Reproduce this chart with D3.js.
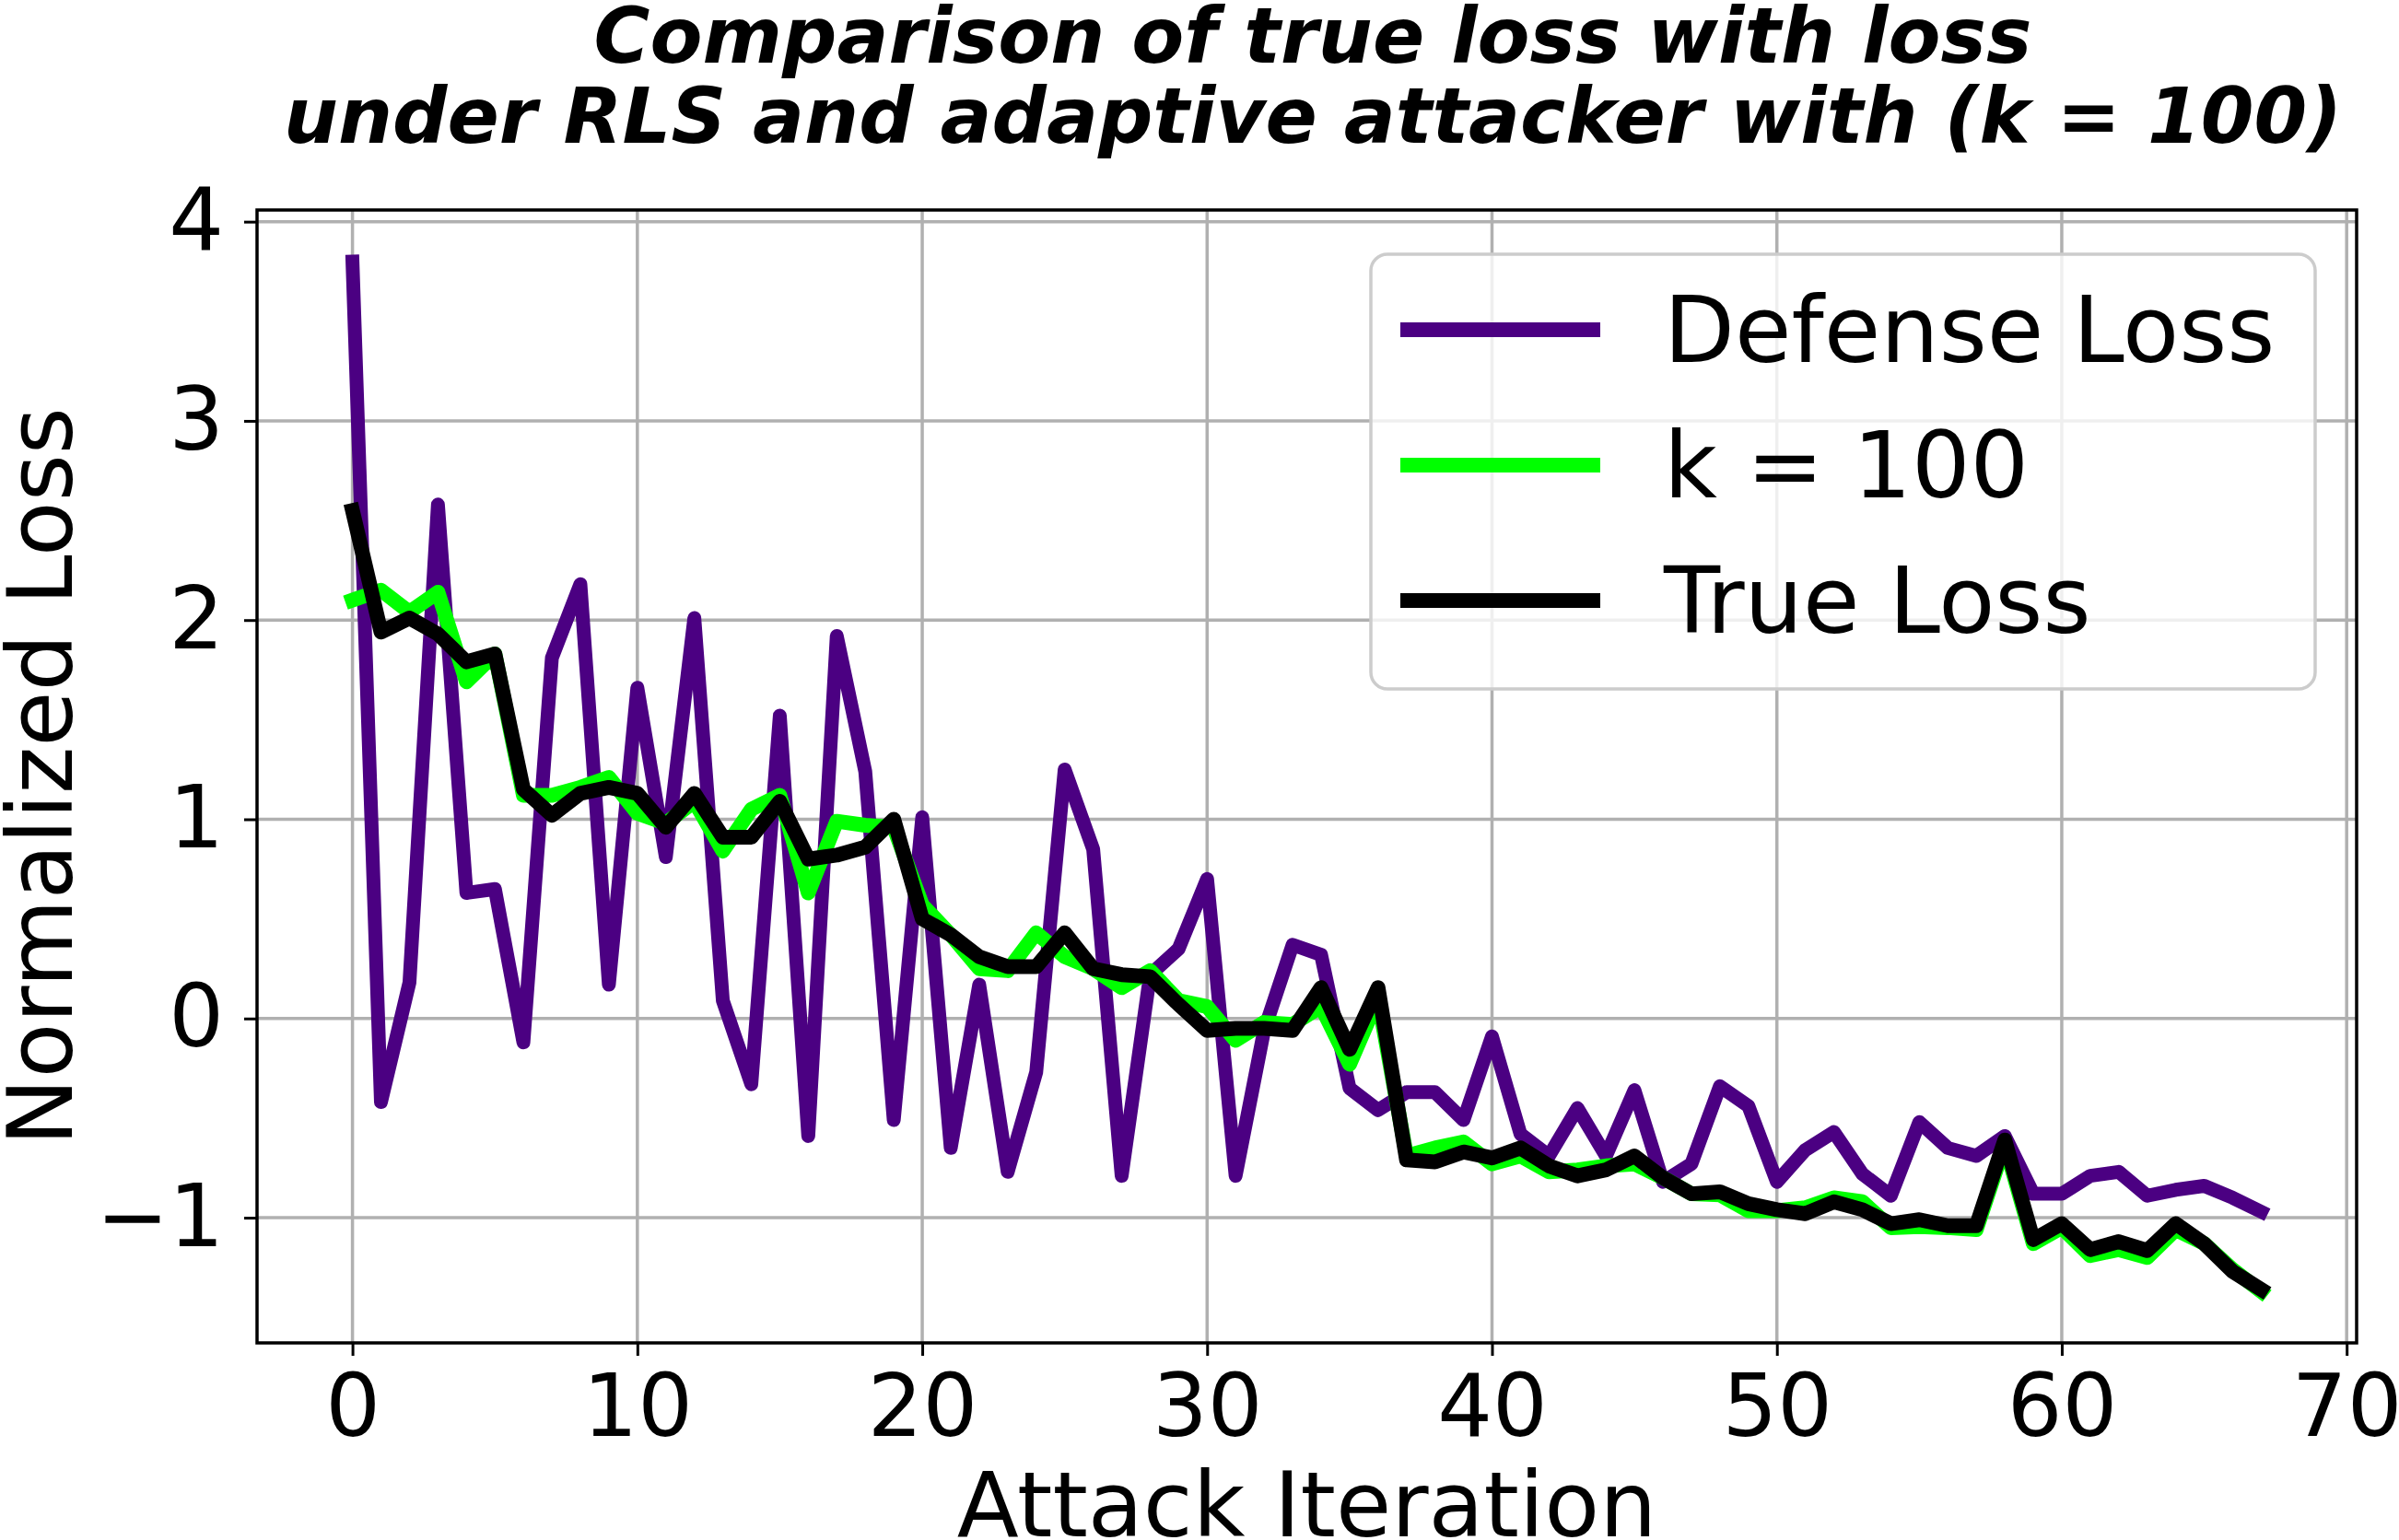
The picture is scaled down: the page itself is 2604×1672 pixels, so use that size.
<!DOCTYPE html>
<html>
<head>
<meta charset="utf-8">
<script src="https://cdn.jsdelivr.net/npm/d3@7"></script>
<style>
  body { margin: 0; background: #fff; }
  text { font-family: "DejaVu Sans", sans-serif; }
</style>
</head>
<body>
<div id="chart"></div>
<script>
// values, one per attack iteration (0..67)
var defenseLoss = [3.80, -0.42, 0.18, 2.58, 0.63, 0.65, -0.12, 1.81, 2.18, 0.17,
  1.66, 0.81, 2.01, 0.09, -0.33, 1.52, -0.59, 1.92, 1.24, -0.51,
  1.01, -0.65, 0.17, -0.77, -0.27, 1.25, 0.85, -0.79, 0.22, 0.35,
  0.70, -0.79, -0.06, 0.37, 0.32, -0.35, -0.46, -0.37, -0.37, -0.51,
  -0.09, -0.58, -0.69, -0.45, -0.69, -0.36, -0.82, -0.73, -0.34, -0.44,
  -0.82, -0.66, -0.57, -0.78, -0.89, -0.52, -0.65, -0.69, -0.59, -0.88,
  -0.88, -0.79, -0.77, -0.89, -0.86, -0.84, -0.90, -0.97];

var k100Loss = [2.10, 2.15, 2.04, 2.14, 1.69, 1.83, 1.12, 1.12, 1.16, 1.21,
  1.03, 0.98, 1.09, 0.84, 1.05, 1.12, 0.63, 0.99, 0.97, 0.96,
  0.57, 0.42, 0.25, 0.24, 0.43, 0.31, 0.25, 0.155, 0.24, 0.09,
  0.06, -0.11, -0.02, -0.03, 0.06, -0.23, 0.10, -0.69, -0.65, -0.62,
  -0.73, -0.69, -0.77, -0.76, -0.74, -0.73, -0.80, -0.88, -0.885, -0.965,
  -0.965, -0.95, -0.90, -0.92, -1.05, -1.045, -1.05, -1.06, -0.63, -1.13,
  -1.05, -1.19, -1.16, -1.20, -1.06, -1.13, -1.26, -1.37];

var trueLoss = [2.55, 1.94, 2.01, 1.93, 1.79, 1.83, 1.15, 1.02, 1.13, 1.16,
  1.13, 0.96, 1.13, 0.91, 0.91, 1.09, 0.80, 0.82, 0.86, 1.00,
  0.50, 0.42, 0.31, 0.26, 0.26, 0.43, 0.25, 0.22, 0.21, 0.07,
  -0.06, -0.05, -0.05, -0.06, 0.155, -0.155, 0.155, -0.71, -0.72, -0.67,
  -0.70, -0.65, -0.74, -0.79, -0.76, -0.69, -0.80, -0.88, -0.87, -0.93,
  -0.96, -0.98, -0.92, -0.96, -1.03, -1.01, -1.04, -1.04, -0.61, -1.11,
  -1.03, -1.16, -1.12, -1.165, -1.03, -1.13, -1.27, -1.36];

var seriesNames = ["Defense Loss", "k = 100", "True Loss"];
var xTicks = [0, 10, 20, 30, 40, 50, 60, 70];
var yTicks = [-1, 0, 1, 2, 3, 4];

var W = 2604, H = 1672;
var plotL = 279, plotR = 2558, plotT = 228, plotB = 1458;

var svg = d3.select("#chart").append("svg")
  .attr("width", W)
  .attr("height", H);

svg.append("rect").attr("width", W).attr("height", H).attr("fill", "#fff");

// matplotlib style 5% margins
var n = trueLoss.length;
var xPad = (n - 1) * 0.05;
var all = defenseLoss.concat(k100Loss, trueLoss);
var yMin = d3.min(all), yMax = d3.max(all);
var yPad = (yMax - yMin) * 0.05;

var x = d3.scaleLinear().domain([-xPad, n - 1 + xPad]).range([plotL, plotR]);
var y = d3.scaleLinear().domain([yMin - yPad, yMax + yPad]).range([plotB, plotT]);

// grid
svg.append("g").selectAll("line")
  .data(xTicks)
  .enter()
  .append("line")
  .attr("x1", function(d) { return x(d); })
  .attr("x2", function(d) { return x(d); })
  .attr("y1", plotT)
  .attr("y2", plotB)
  .attr("stroke", "#b0b0b0")
  .attr("stroke-width", 3.5);

svg.append("g").selectAll("line")
  .data(yTicks)
  .enter()
  .append("line")
  .attr("x1", plotL)
  .attr("x2", plotR)
  .attr("y1", function(d) { return y(d); })
  .attr("y2", function(d) { return y(d); })
  .attr("stroke", "#b0b0b0")
  .attr("stroke-width", 3.5);

// series lines, black drawn last so it sits on top
var colors = ["#4b0082", "#00ff00", "#000000"];
var widths = [15, 16, 16];
var series = [defenseLoss, k100Loss, trueLoss];

var line = d3.line()
  .x(function(d, i) { return x(i); })
  .y(function(d) { return y(d); });

svg.append("g").selectAll("path")
  .data(series)
  .enter()
  .append("path")
  .attr("d", line)
  .attr("fill", "none")
  .attr("stroke", function(d, i) { return colors[i]; })
  .attr("stroke-width", function(d, i) { return widths[i]; })
  .attr("stroke-linejoin", "round")
  .attr("stroke-linecap", "square");

// axes
var xAxis = svg.append("g")
  .attr("transform", "translate(0," + plotB + ")")
  .call(d3.axisBottom(x).tickValues(xTicks).tickFormat(d3.format("d"))
    .tickSizeInner(14).tickSizeOuter(0).tickPadding(20));

var yAxis = svg.append("g")
  .attr("transform", "translate(" + plotL + ",0)")
  .call(d3.axisLeft(y).tickValues(yTicks).tickFormat(d3.format("d"))
    .tickSizeInner(14).tickSizeOuter(0).tickPadding(22));

[xAxis, yAxis].forEach(function(a) {
  a.select(".domain").remove();
  a.selectAll(".tick line").attr("stroke", "#000").attr("stroke-width", 3);
  a.selectAll(".tick text")
    .attr("fill", "#000")
    .style("font-family", "DejaVu Sans")
    .style("font-size", "94px");
});

svg.append("rect")
  .attr("x", plotL)
  .attr("y", plotT)
  .attr("width", plotR - plotL)
  .attr("height", plotB - plotT)
  .attr("fill", "none")
  .attr("stroke", "#000")
  .attr("stroke-width", 3.5);

// axis titles
svg.append("text")
  .text("Attack Iteration")
  .attr("x", (plotL + plotR) / 2)
  .attr("y", 1668)
  .attr("text-anchor", "middle")
  .style("font-size", "98px");

svg.append("text")
  .text("Normalized Loss")
  .attr("transform", "translate(78," + ((plotT + plotB) / 2) + ") rotate(-90)")
  .attr("text-anchor", "middle")
  .style("font-size", "98px");

// title
var title = ["Comparison of true loss with loss", "under RLS and adaptive attacker with (k = 100)"];
svg.selectAll(".title")
  .data(title)
  .enter()
  .append("text")
  .attr("class", "title")
  .text(function(d) { return d; })
  .attr("x", 1425)
  .attr("y", function(d, i) { return 68 + i * 87; })
  .attr("text-anchor", "middle")
  .style("font-size", "83px")
  .style("font-weight", "bold")
  .style("font-style", "italic");

// legend
var lg = svg.append("g");
lg.append("rect")
  .attr("x", 1488)
  .attr("y", 276)
  .attr("width", 1025)
  .attr("height", 472)
  .attr("rx", 18)
  .attr("fill", "#fff")
  .attr("fill-opacity", 0.8)
  .attr("stroke", "#cccccc")
  .attr("stroke-width", 3.5);

var rows = lg.selectAll(".row")
  .data(seriesNames)
  .enter()
  .append("g")
  .attr("transform", function(d, i) { return "translate(0," + (358 + i * 147) + ")"; });

rows.append("line")
  .attr("x1", 1520)
  .attr("x2", 1737)
  .attr("stroke", function(d, i) { return colors[i]; })
  .attr("stroke-width", 16);

rows.append("text")
  .text(function(d) { return d; })
  .attr("x", 1806)
  .attr("y", 35)
  .style("font-size", "100px");
</script>
</body>
</html>
